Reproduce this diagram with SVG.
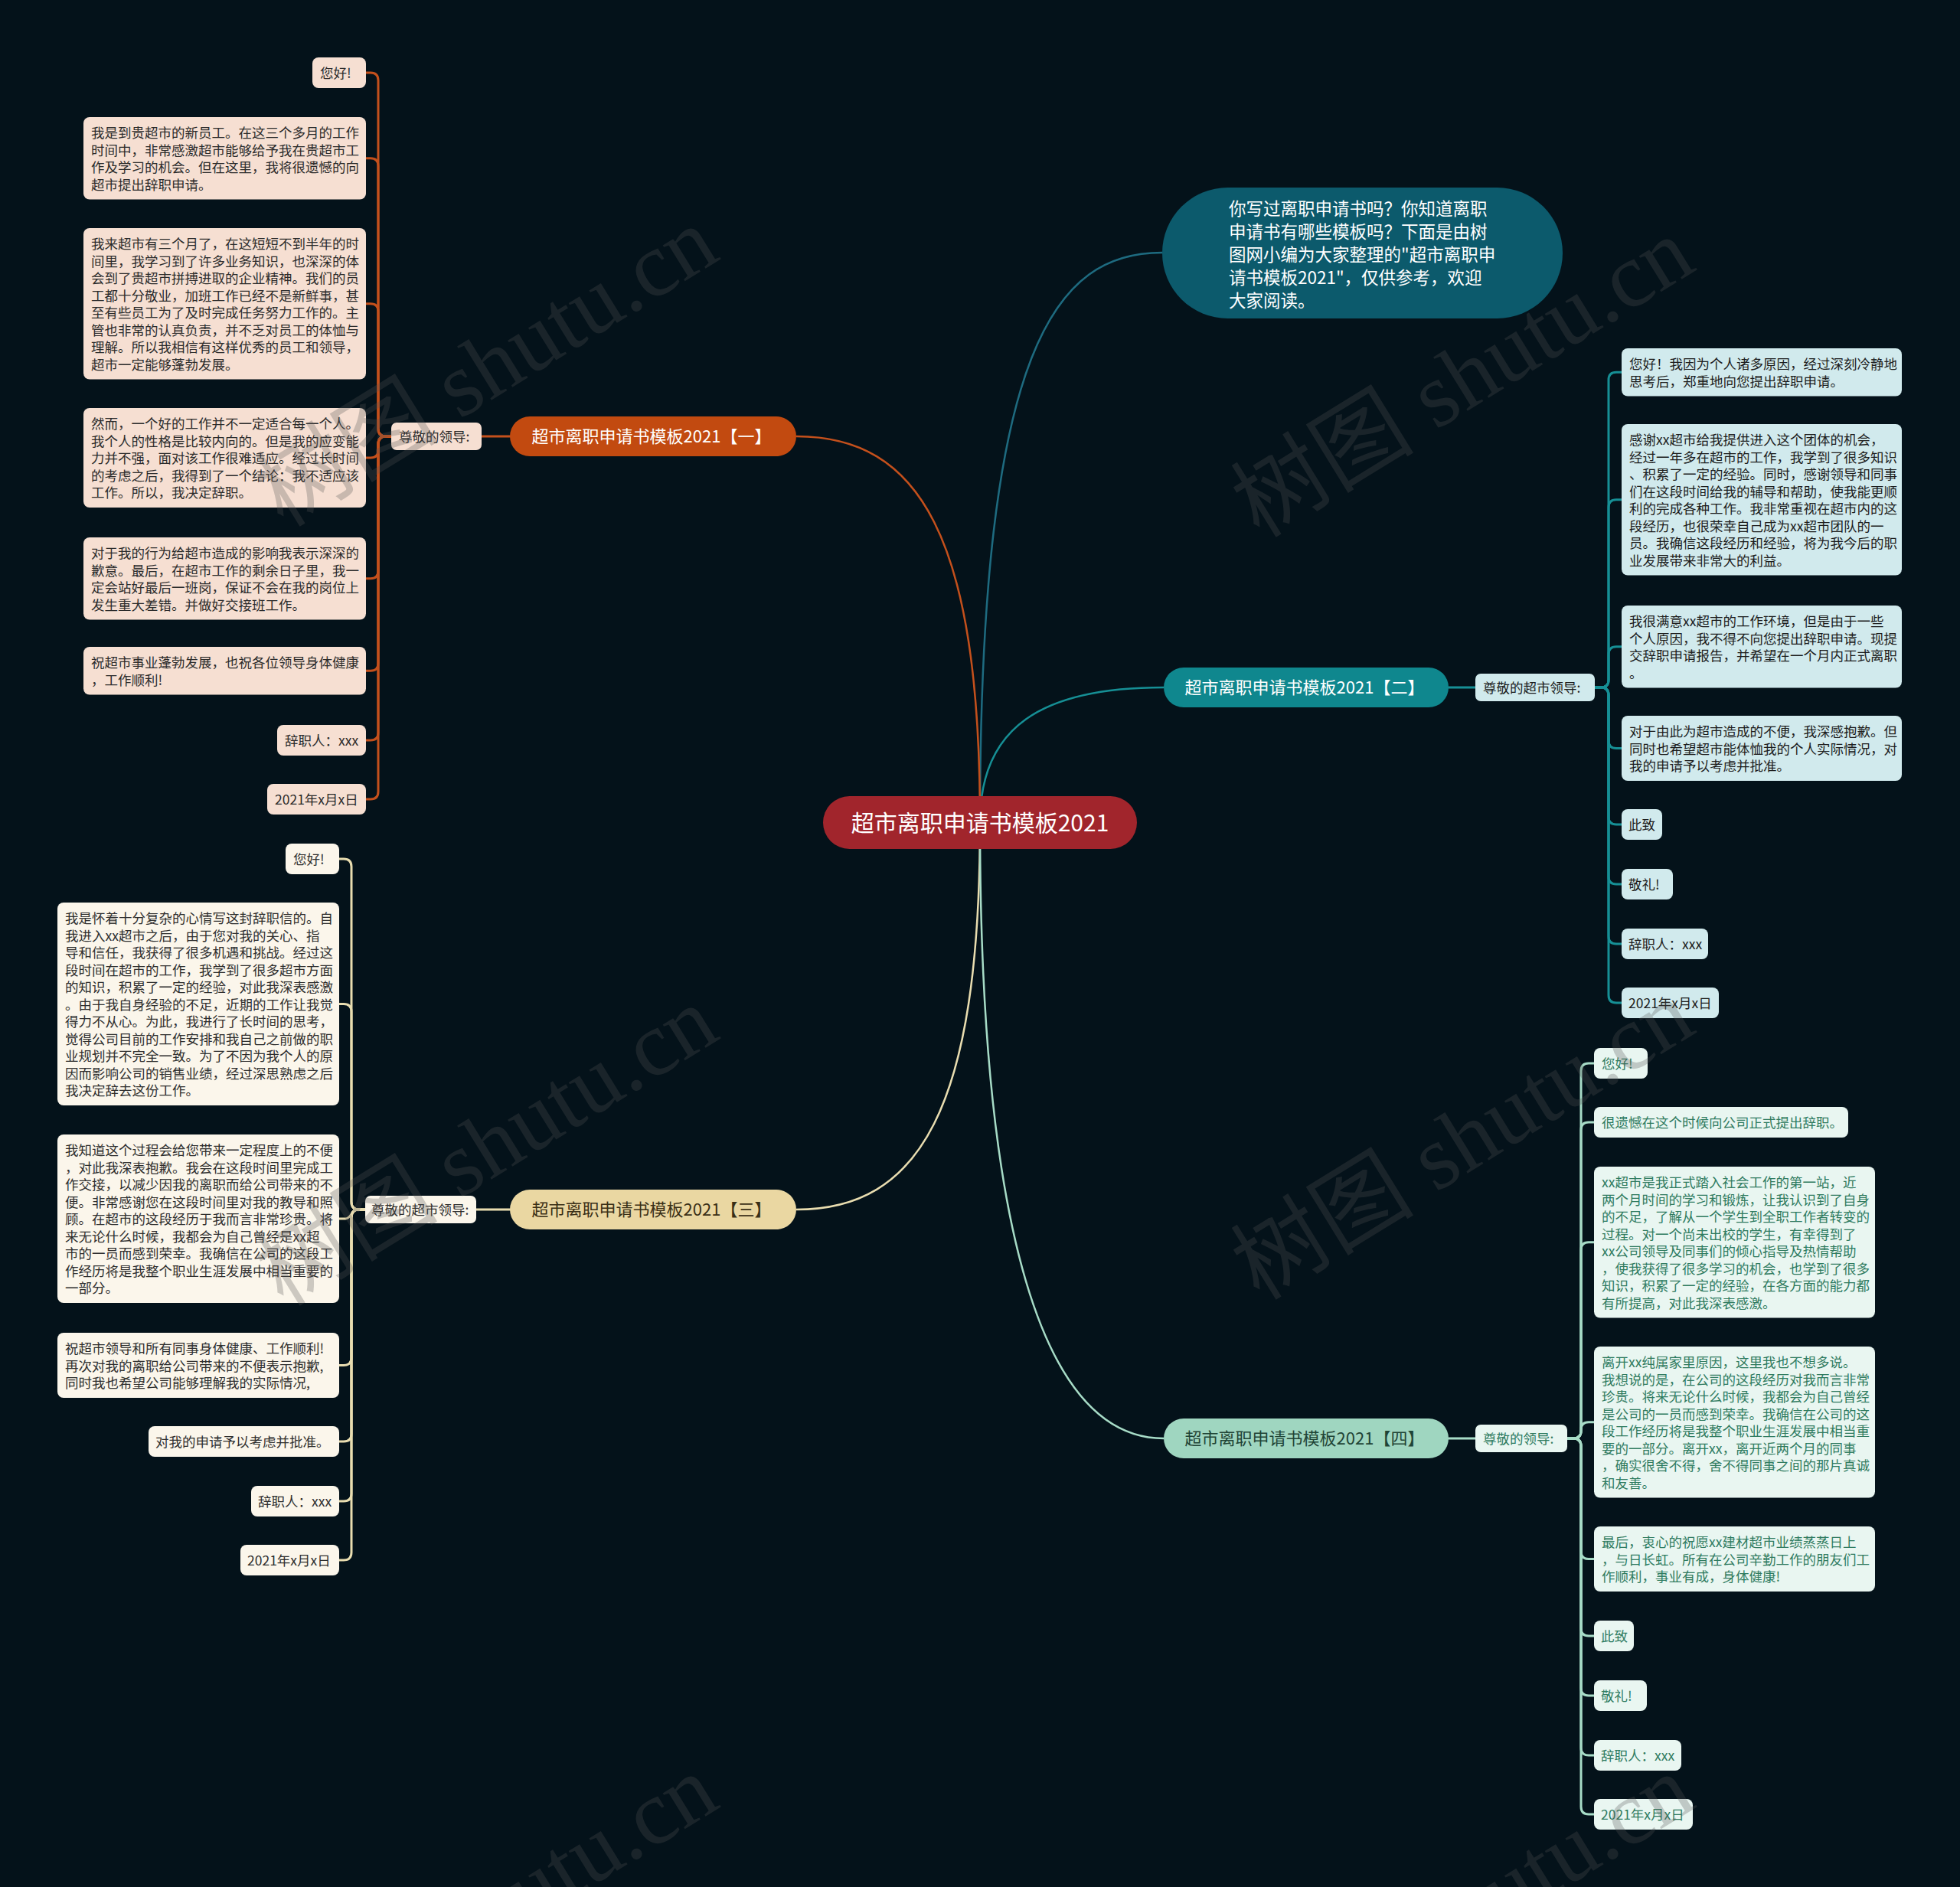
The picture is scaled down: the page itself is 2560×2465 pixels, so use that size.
<svg xmlns="http://www.w3.org/2000/svg" width="2560" height="2465" viewBox="0 0 2560 2465">
<style>
text{font-family:"Noto Sans CJK SC","Noto Sans",sans-serif;}
.lt{font-size:17.5px;}
.bt{font-size:22px;text-anchor:middle;}
.c1 path{stroke:#c4501c;} .c2 path{stroke:#168f95;} .c3 path{stroke:#e9ddb0;} .c4 path{stroke:#a7dcc7;}
.conn path{fill:none;stroke-width:3;stroke-linecap:round;}
.main path{fill:none;stroke-width:2.5;}
.l1 rect{fill:#f6dfd2;} .l1 text{fill:#2b2b2b;}
.l2 rect{fill:#d1eaed;} .l2 text{fill:#1c1c1c;}
.l3 rect{fill:#fbf6eb;} .l3 text{fill:#2e2e2e;}
.l4 rect{fill:#e9f6f1;} .l4 text{fill:#2f7b5f;}
.wm{font-family:"Liberation Serif","Noto Sans CJK SC",serif;font-size:120px;fill:#555;opacity:0.28;}
</style>
<rect x="0" y="0" width="2560" height="2465" fill="#04121a"/>

<g id="connectors">
 <g class="main">
  <path d="M1518 330 C1380 330 1280 450 1280 1074" stroke="#1e6b80"/>
  <path d="M1040 570 C1200 570 1280 700 1280 1074" stroke="#c4501c"/>
  <path d="M1520 898 C1360 898 1280 950 1280 1074" stroke="#168f95"/>
  <path d="M1040 1580 C1200 1580 1280 1450 1280 1074" stroke="#e9ddb0"/>
  <path d="M1520 1879 C1360 1879 1280 1600 1280 1074" stroke="#a7dcc7"/>
 </g>
 <g class="conn c1">
  <path d="M629 570 H666"/>
  <path d="M511 570 H504 Q494 570 494 560 V105 Q494 95 484 95 H478"/>
  <path d="M511 570 H504 Q494 570 494 560 V216.75 Q494 206.75 484 206.75 H478"/>
  <path d="M511 570 H504 Q494 570 494 560 V406.75 Q494 396.75 484 396.75 H478"/>
  <path d="M511 570 H504 Q494 570 494 580 V588 Q494 598 484 598 H478"/>
  <path d="M511 570 H504 Q494 570 494 580 V745.75 Q494 755.75 484 755.75 H478"/>
  <path d="M511 570 H504 Q494 570 494 580 V866.25 Q494 876.25 484 876.25 H478"/>
  <path d="M511 570 H504 Q494 570 494 580 V957 Q494 967 484 967 H478"/>
  <path d="M511 570 H504 Q494 570 494 580 V1034 Q494 1044 484 1044 H478"/>
 </g>
 <g class="conn c2">
  <path d="M1892 898 H1927"/>
  <path d="M2083 898 H2091 Q2101 898 2101 888 V496.25 Q2101 486.25 2111 486.25 H2118"/>
  <path d="M2083 898 H2091 Q2101 898 2101 888 V662.75 Q2101 652.75 2111 652.75 H2118"/>
  <path d="M2083 898 H2091 Q2101 898 2101 888 V854.75 Q2101 844.75 2111 844.75 H2118"/>
  <path d="M2083 898 H2091 Q2101 898 2101 908 V967.5 Q2101 977.5 2111 977.5 H2118"/>
  <path d="M2083 898 H2091 Q2101 898 2101 908 V1067 Q2101 1077 2111 1077 H2118"/>
  <path d="M2083 898 H2091 Q2101 898 2101 908 V1145 Q2101 1155 2111 1155 H2118"/>
  <path d="M2083 898 H2091 Q2101 898 2101 908 V1223 Q2101 1233 2111 1233 H2118"/>
  <path d="M2083 898 H2091 Q2101 898 2101 908 V1300 Q2101 1310 2111 1310 H2118"/>
 </g>
 <g class="conn c3">
  <path d="M622 1580 H666"/>
  <path d="M477 1580 H469 Q459 1580 459 1570 V1132 Q459 1122 449 1122 H443"/>
  <path d="M477 1580 H469 Q459 1580 459 1570 V1321.5 Q459 1311.5 449 1311.5 H443"/>
  <path d="M477 1580 H467 C459 1580 459 1592 451 1592 H443"/>
  <path d="M477 1580 H469 Q459 1580 459 1590 V1773.5 Q459 1783.5 449 1783.5 H443"/>
  <path d="M477 1580 H469 Q459 1580 459 1590 V1873 Q459 1883 449 1883 H443"/>
  <path d="M477 1580 H469 Q459 1580 459 1590 V1951 Q459 1961 449 1961 H443"/>
  <path d="M477 1580 H469 Q459 1580 459 1590 V2028 Q459 2038 449 2038 H443"/>
 </g>
 <g class="conn c4">
  <path d="M1892 1879 H1927"/>
  <path d="M2047 1879 H2055 Q2065 1879 2065 1869 V1399 Q2065 1389 2075 1389 H2082"/>
  <path d="M2047 1879 H2055 Q2065 1879 2065 1869 V1476 Q2065 1466 2075 1466 H2082"/>
  <path d="M2047 1879 H2055 Q2065 1879 2065 1869 V1632.75 Q2065 1622.75 2075 1622.75 H2082"/>
  <path d="M2047 1879 H2055 Q2065 1879 2065 1869 V1867.75 Q2065 1857.75 2075 1857.75 H2082"/>
  <path d="M2047 1879 H2055 Q2065 1879 2065 1889 V2026.5 Q2065 2036.5 2075 2036.5 H2082"/>
  <path d="M2047 1879 H2055 Q2065 1879 2065 1889 V2127 Q2065 2137 2075 2137 H2082"/>
  <path d="M2047 1879 H2055 Q2065 1879 2065 1889 V2205 Q2065 2215 2075 2215 H2082"/>
  <path d="M2047 1879 H2055 Q2065 1879 2065 1889 V2283 Q2065 2293 2075 2293 H2082"/>
  <path d="M2047 1879 H2055 Q2065 1879 2065 1889 V2360 Q2065 2370 2075 2370 H2082"/>
 </g>
</g>

<g id="center">
 <rect x="1075" y="1040" width="410" height="69" rx="34.5" fill="#a1252c"/>
 <text x="1280" y="1086" font-size="30" text-anchor="middle" fill="#ffffff">超市离职申请书模板2021</text>
</g>

<g id="intro">
 <rect x="1518" y="245" width="523" height="171" rx="85.5" fill="#0c5a6c"/>
 <text font-size="22.5" fill="#ffffff">
  <tspan x="1605" y="281">你写过离职申请书吗？你知道离职</tspan>
  <tspan x="1605" y="311">申请书有哪些模板吗？下面是由树</tspan>
  <tspan x="1605" y="341">图网小编为大家整理的"超市离职申</tspan>
  <tspan x="1605" y="371">请书模板2021"，仅供参考，欢迎</tspan>
  <tspan x="1605" y="401">大家阅读。</tspan>
 </text>
</g>

<g id="branch1">
 <rect x="666" y="544" width="374" height="52" rx="26" fill="#c24a10"/>
 <text class="bt" x="851" y="578" fill="#ffffff">超市离职申请书模板2021【一】</text>
</g>
<g id="branch2">
 <rect x="1520" y="872" width="372" height="52" rx="26" fill="#0f878e"/>
 <text class="bt" x="1704" y="906" fill="#ffffff">超市离职申请书模板2021【二】</text>
</g>
<g id="branch3">
 <rect x="666" y="1554" width="374" height="52" rx="26" fill="#ead7a2"/>
 <text class="bt" x="851" y="1588" fill="#3a2f16">超市离职申请书模板2021【三】</text>
</g>
<g id="branch4">
 <rect x="1520" y="1853" width="372" height="52" rx="26" fill="#9fd6c0"/>
 <text class="bt" x="1704" y="1887" fill="#1f4436">超市离职申请书模板2021【四】</text>
</g>

<g id="label1" class="l1">
 <rect x="511" y="552" width="118" height="36" rx="7"/>
 <text class="lt" x="521" y="576.5">尊敬的领导:</text>
</g>
<g id="label2" class="l2">
 <rect x="1927" y="880" width="156" height="36" rx="7"/>
 <text class="lt" x="1937" y="904.5">尊敬的超市领导:</text>
</g>
<g id="label3" class="l3">
 <rect x="477" y="1562" width="145" height="36" rx="7"/>
 <text class="lt" x="485" y="1586.5">尊敬的超市领导:</text>
</g>
<g id="label4" class="l4">
 <rect x="1927" y="1861" width="120" height="36" rx="7"/>
 <text class="lt" x="1937" y="1885.5">尊敬的领导:</text>
</g>

<g id="b1-leaves" class="l1">
 <g id="b1n1"><rect x="408" y="75" width="70" height="40" rx="8"/><text class="lt" x="418" y="102">您好!</text></g>
 <g id="b1n2"><rect x="109" y="153" width="369" height="107.5" rx="8"/>
  <text class="lt"><tspan x="119" y="180">我是到贵超市的新员工。在这三个多月的工作</tspan><tspan x="119" dy="22.5">时间中，非常感激超市能够给予我在贵超市工</tspan><tspan x="119" dy="22.5">作及学习的机会。但在这里，我将很遗憾的向</tspan><tspan x="119" dy="22.5">超市提出辞职申请。</tspan></text></g>
 <g id="b1n3"><rect x="109" y="298" width="369" height="197.5" rx="8"/>
  <text class="lt"><tspan x="119" y="325">我来超市有三个月了，在这短短不到半年的时</tspan><tspan x="119" dy="22.5">间里，我学习到了许多业务知识，也深深的体</tspan><tspan x="119" dy="22.5">会到了贵超市拼搏进取的企业精神。我们的员</tspan><tspan x="119" dy="22.5">工都十分敬业，加班工作已经不是新鲜事，甚</tspan><tspan x="119" dy="22.5">至有些员工为了及时完成任务努力工作的。主</tspan><tspan x="119" dy="22.5">管也非常的认真负责，并不乏对员工的体恤与</tspan><tspan x="119" dy="22.5">理解。所以我相信有这样优秀的员工和领导，</tspan><tspan x="119" dy="22.5">超市一定能够蓬勃发展。</tspan></text></g>
 <g id="b1n4"><rect x="109" y="533" width="369" height="130" rx="8"/>
  <text class="lt"><tspan x="119" y="560">然而，一个好的工作并不一定适合每一个人。</tspan><tspan x="119" dy="22.5">我个人的性格是比较内向的。但是我的应变能</tspan><tspan x="119" dy="22.5">力并不强，面对该工作很难适应。经过长时间</tspan><tspan x="119" dy="22.5">的考虑之后，我得到了一个结论：我不适应该</tspan><tspan x="119" dy="22.5">工作。所以，我决定辞职。</tspan></text></g>
 <g id="b1n5"><rect x="109" y="702" width="369" height="107.5" rx="8"/>
  <text class="lt"><tspan x="119" y="729">对于我的行为给超市造成的影响我表示深深的</tspan><tspan x="119" dy="22.5">歉意。最后，在超市工作的剩余日子里，我一</tspan><tspan x="119" dy="22.5">定会站好最后一班岗，保证不会在我的岗位上</tspan><tspan x="119" dy="22.5">发生重大差错。并做好交接班工作。</tspan></text></g>
 <g id="b1n6"><rect x="109" y="845" width="369" height="62.5" rx="8"/>
  <text class="lt"><tspan x="119" y="872">祝超市事业蓬勃发展，也祝各位领导身体健康</tspan><tspan x="119" dy="22.5">，工作顺利!</tspan></text></g>
 <g id="b1n7"><rect x="362" y="947" width="116" height="40" rx="8"/><text class="lt" x="372" y="974">辞职人：xxx</text></g>
 <g id="b1n8"><rect x="349" y="1024" width="129" height="40" rx="8"/><text class="lt" x="359" y="1051">2021年x月x日</text></g>
</g>

<g id="b2-leaves" class="l2">
 <g id="b2n1"><rect x="2118" y="455" width="366" height="62.5" rx="8"/>
  <text class="lt"><tspan x="2128" y="482">您好！我因为个人诸多原因，经过深刻冷静地</tspan><tspan x="2128" dy="22.5">思考后，郑重地向您提出辞职申请。</tspan></text></g>
 <g id="b2n2"><rect x="2118" y="554" width="366" height="197.5" rx="8"/>
  <text class="lt"><tspan x="2128" y="581">感谢xx超市给我提供进入这个团体的机会，</tspan><tspan x="2128" dy="22.5">经过一年多在超市的工作，我学到了很多知识</tspan><tspan x="2128" dy="22.5">、积累了一定的经验。同时，感谢领导和同事</tspan><tspan x="2128" dy="22.5">们在这段时间给我的辅导和帮助，使我能更顺</tspan><tspan x="2128" dy="22.5">利的完成各种工作。我非常重视在超市内的这</tspan><tspan x="2128" dy="22.5">段经历，也很荣幸自己成为xx超市团队的一</tspan><tspan x="2128" dy="22.5">员。我确信这段经历和经验，将为我今后的职</tspan><tspan x="2128" dy="22.5">业发展带来非常大的利益。</tspan></text></g>
 <g id="b2n3"><rect x="2118" y="791" width="366" height="107.5" rx="8"/>
  <text class="lt"><tspan x="2128" y="818">我很满意xx超市的工作环境，但是由于一些</tspan><tspan x="2128" dy="22.5">个人原因，我不得不向您提出辞职申请。现提</tspan><tspan x="2128" dy="22.5">交辞职申请报告，并希望在一个月内正式离职</tspan><tspan x="2128" dy="22.5">。</tspan></text></g>
 <g id="b2n4"><rect x="2118" y="935" width="366" height="85" rx="8"/>
  <text class="lt"><tspan x="2128" y="962">对于由此为超市造成的不便，我深感抱歉。但</tspan><tspan x="2128" dy="22.5">同时也希望超市能体恤我的个人实际情况，对</tspan><tspan x="2128" dy="22.5">我的申请予以考虑并批准。</tspan></text></g>
 <g id="b2n5"><rect x="2118" y="1057" width="53" height="40" rx="8"/><text class="lt" x="2127" y="1084">此致</text></g>
 <g id="b2n6"><rect x="2118" y="1135" width="67" height="40" rx="8"/><text class="lt" x="2127" y="1162">敬礼!</text></g>
 <g id="b2n7"><rect x="2118" y="1213" width="113" height="40" rx="8"/><text class="lt" x="2127" y="1240">辞职人：xxx</text></g>
 <g id="b2n8"><rect x="2118" y="1290" width="127" height="40" rx="8"/><text class="lt" x="2127" y="1317">2021年x月x日</text></g>
</g>

<g id="b3-leaves" class="l3">
 <g id="b3n1"><rect x="373" y="1102" width="70" height="40" rx="8"/><text class="lt" x="383" y="1129">您好!</text></g>
 <g id="b3n2"><rect x="75" y="1179" width="368" height="265" rx="8"/>
  <text class="lt"><tspan x="85" y="1206">我是怀着十分复杂的心情写这封辞职信的。自</tspan><tspan x="85" dy="22.5">我进入xx超市之后，由于您对我的关心、指</tspan><tspan x="85" dy="22.5">导和信任，我获得了很多机遇和挑战。经过这</tspan><tspan x="85" dy="22.5">段时间在超市的工作，我学到了很多超市方面</tspan><tspan x="85" dy="22.5">的知识，积累了一定的经验，对此我深表感激</tspan><tspan x="85" dy="22.5">。由于我自身经验的不足，近期的工作让我觉</tspan><tspan x="85" dy="22.5">得力不从心。为此，我进行了长时间的思考，</tspan><tspan x="85" dy="22.5">觉得公司目前的工作安排和我自己之前做的职</tspan><tspan x="85" dy="22.5">业规划并不完全一致。为了不因为我个人的原</tspan><tspan x="85" dy="22.5">因而影响公司的销售业绩，经过深思熟虑之后</tspan><tspan x="85" dy="22.5">我决定辞去这份工作。</tspan></text></g>
 <g id="b3n3"><rect x="75" y="1482" width="368" height="220" rx="8"/>
  <text class="lt"><tspan x="85" y="1509">我知道这个过程会给您带来一定程度上的不便</tspan><tspan x="85" dy="22.5">，对此我深表抱歉。我会在这段时间里完成工</tspan><tspan x="85" dy="22.5">作交接，以减少因我的离职而给公司带来的不</tspan><tspan x="85" dy="22.5">便。非常感谢您在这段时间里对我的教导和照</tspan><tspan x="85" dy="22.5">顾。在超市的这段经历于我而言非常珍贵。将</tspan><tspan x="85" dy="22.5">来无论什么时候，我都会为自己曾经是xx超</tspan><tspan x="85" dy="22.5">市的一员而感到荣幸。我确信在公司的这段工</tspan><tspan x="85" dy="22.5">作经历将是我整个职业生涯发展中相当重要的</tspan><tspan x="85" dy="22.5">一部分。</tspan></text></g>
 <g id="b3n4"><rect x="75" y="1741" width="368" height="85" rx="8"/>
  <text class="lt"><tspan x="85" y="1768">祝超市领导和所有同事身体健康、工作顺利!</tspan><tspan x="85" dy="22.5">再次对我的离职给公司带来的不便表示抱歉,</tspan><tspan x="85" dy="22.5">同时我也希望公司能够理解我的实际情况,</tspan></text></g>
 <g id="b3n5"><rect x="194" y="1863" width="249" height="40" rx="8"/><text class="lt" x="203" y="1890">对我的申请予以考虑并批准。</text></g>
 <g id="b3n6"><rect x="328" y="1941" width="115" height="40" rx="8"/><text class="lt" x="337" y="1968">辞职人：xxx</text></g>
 <g id="b3n7"><rect x="314" y="2018" width="129" height="40" rx="8"/><text class="lt" x="323" y="2045">2021年x月x日</text></g>
</g>

<g id="b4-leaves" class="l4">
 <g id="b4n1"><rect x="2082" y="1369" width="70" height="40" rx="8"/><text class="lt" x="2092" y="1396">您好!</text></g>
 <g id="b4n2"><rect x="2082" y="1446" width="332" height="40" rx="8"/><text class="lt" x="2092" y="1473">很遗憾在这个时候向公司正式提出辞职。</text></g>
 <g id="b4n3"><rect x="2082" y="1524" width="367" height="197.5" rx="8"/>
  <text class="lt"><tspan x="2092" y="1551">xx超市是我正式踏入社会工作的第一站，近</tspan><tspan x="2092" dy="22.5">两个月时间的学习和锻炼，让我认识到了自身</tspan><tspan x="2092" dy="22.5">的不足，了解从一个学生到全职工作者转变的</tspan><tspan x="2092" dy="22.5">过程。对一个尚未出校的学生，有幸得到了</tspan><tspan x="2092" dy="22.5">xx公司领导及同事们的倾心指导及热情帮助</tspan><tspan x="2092" dy="22.5">，使我获得了很多学习的机会，也学到了很多</tspan><tspan x="2092" dy="22.5">知识，积累了一定的经验，在各方面的能力都</tspan><tspan x="2092" dy="22.5">有所提高，对此我深表感激。</tspan></text></g>
 <g id="b4n4"><rect x="2082" y="1759" width="367" height="197.5" rx="8"/>
  <text class="lt"><tspan x="2092" y="1786">离开xx纯属家里原因，这里我也不想多说。</tspan><tspan x="2092" dy="22.5">我想说的是，在公司的这段经历对我而言非常</tspan><tspan x="2092" dy="22.5">珍贵。将来无论什么时候，我都会为自己曾经</tspan><tspan x="2092" dy="22.5">是公司的一员而感到荣幸。我确信在公司的这</tspan><tspan x="2092" dy="22.5">段工作经历将是我整个职业生涯发展中相当重</tspan><tspan x="2092" dy="22.5">要的一部分。离开xx，离开近两个月的同事</tspan><tspan x="2092" dy="22.5">，确实很舍不得，舍不得同事之间的那片真诚</tspan><tspan x="2092" dy="22.5">和友善。</tspan></text></g>
 <g id="b4n5"><rect x="2082" y="1994" width="367" height="85" rx="8"/>
  <text class="lt"><tspan x="2092" y="2021">最后，衷心的祝愿xx建材超市业绩蒸蒸日上</tspan><tspan x="2092" dy="22.5">，与日长虹。所有在公司辛勤工作的朋友们工</tspan><tspan x="2092" dy="22.5">作顺利，事业有成，身体健康!</tspan></text></g>
 <g id="b4n6"><rect x="2082" y="2117" width="52" height="40" rx="8"/><text class="lt" x="2091" y="2144">此致</text></g>
 <g id="b4n7"><rect x="2082" y="2195" width="69" height="40" rx="8"/><text class="lt" x="2091" y="2222">敬礼!</text></g>
 <g id="b4n8"><rect x="2082" y="2273" width="114" height="40" rx="8"/><text class="lt" x="2091" y="2300">辞职人：xxx</text></g>
 <g id="b4n9"><rect x="2082" y="2350" width="129" height="40" rx="8"/><text class="lt" x="2091" y="2377">2021年x月x日</text></g>
</g>

<g id="watermarks">
 <text class="wm" transform="translate(370 690) rotate(-31.6)">树图 shutu.cn</text>
 <text class="wm" transform="translate(1645 704) rotate(-31.6)">树图 shutu.cn</text>
 <text class="wm" transform="translate(370 1708) rotate(-31.6)">树图 shutu.cn</text>
 <text class="wm" transform="translate(1645 1700) rotate(-31.6)">树图 shutu.cn</text>
 <text class="wm" transform="translate(370 2712) rotate(-31.6)">树图 shutu.cn</text>
 <text class="wm" transform="translate(1645 2712) rotate(-31.6)">树图 shutu.cn</text>
</g>
</svg>
